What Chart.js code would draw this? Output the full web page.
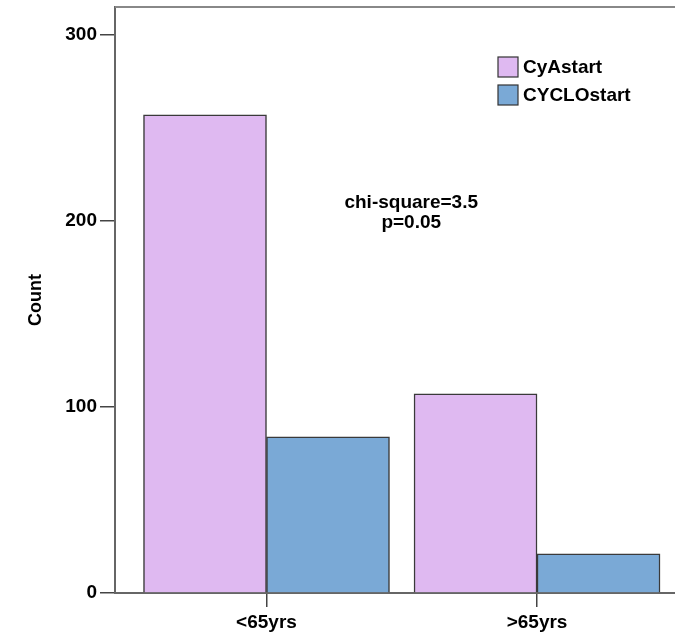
<!DOCTYPE html>
<html>
<head>
<meta charset="utf-8">
<script src="https://cdn.jsdelivr.net/npm/chart.js@4"></script>
<style>
  html, body { margin: 0; padding: 0; background: #fff; }
  #wrap { width: 675px; height: 635px; }
</style>
</head>
<body>
<div id="wrap"><canvas id="countChart" width="675" height="635"></canvas></div>
<script>
const categories = ['<65yrs', '>65yrs'];
const seriesNames = ['CyAstart', 'CYCLOstart'];
const cyaValues = [257, 107];
const cycloValues = [84, 21];
const yTicks = [0, 100, 200, 300];
const statLines = ['chi-square=3.5', 'p=0.05'];

const colors = ['#dfb9f1', '#7aa9d6'];
const fontFamily = 'Arial, "Liberation Sans", sans-serif';

Chart.defaults.font.family = fontFamily;
Chart.defaults.color = '#000';

function toPoints(values) {
  return values.map((v, i) => ({ x: i + 1, y: v }));
}

// box at the top of the plot + legend + chi-square note
const extras = {
  id: 'extras',
  afterDraw(chart) {
    const ctx = chart.ctx;
    const area = chart.chartArea;
    ctx.save();

    ctx.strokeStyle = '#888';
    ctx.lineWidth = 2;
    ctx.beginPath();
    ctx.moveTo(area.left, area.top);
    ctx.lineTo(area.right, area.top);
    ctx.stroke();

    ctx.font = 'bold 19px ' + fontFamily;
    ctx.textBaseline = 'middle';
    ctx.textAlign = 'left';
    chart.data.datasets.forEach((ds, i) => {
      const x = area.right - 177;
      const y = area.top + 50 + i * 28;
      ctx.fillStyle = ds.backgroundColor;
      ctx.fillRect(x, y, 20, 20);
      ctx.strokeStyle = '#333';
      ctx.lineWidth = 1.2;
      ctx.strokeRect(x, y, 20, 20);
      ctx.fillStyle = '#000';
      ctx.fillText(ds.label, x + 25, y + 11);
    });

    ctx.textAlign = 'center';
    ctx.textBaseline = 'alphabetic';
    const xs = chart.scales.x;
    const cx = xs.getPixelForValue(1.535);
    statLines.forEach((t, i) => {
      ctx.fillText(t, cx, area.top + 201 + i * 20);
    });
    ctx.restore();
  }
};

new Chart(document.getElementById('countChart'), {
  type: 'bar',
  data: {
    datasets: [
      {
        label: seriesNames[0],
        data: toPoints(cyaValues),
        backgroundColor: colors[0],
        borderColor: '#3a3a3a',
        borderWidth: 1.5
      },
      {
        label: seriesNames[1],
        data: toPoints(cycloValues),
        backgroundColor: colors[1],
        borderColor: '#3a3a3a',
        borderWidth: 1.5
      }
    ]
  },
  options: {
    responsive: false,
    animation: false,
    barThickness: 123,
    layout: { padding: { left: 25, top: 7, right: 0, bottom: 0 } },
    plugins: {
      legend: { display: false },
      tooltip: { enabled: false }
    },
    scales: {
      x: {
        type: 'linear',
        offset: false,
        min: 0.44,
        max: 2.51,
        afterBuildTicks: (scale) => {
          scale.ticks = categories.map((c, i) => ({ value: i + 1 }));
        },
        afterFit: (scale) => {
          scale.height = 42;
          scale.paddingLeft = 0;
          scale.paddingRight = 0;
        },
        ticks: {
          callback: (v) => categories[v - 1],
          font: { size: 19, weight: 'bold' },
          padding: 4,
          maxRotation: 0,
          autoSkip: false
        },
        grid: { offset: false, drawOnChartArea: false, drawTicks: true, tickLength: 14, color: '#444', lineWidth: 1.5 },
        border: { color: '#666', width: 2 }
      },
      y: {
        min: 0,
        max: 315,
        afterBuildTicks: (scale) => {
          scale.ticks = yTicks.map(v => ({ value: v }));
        },
        afterFit: (scale) => {
          scale.width = 90;
          scale.paddingTop = 0;
          scale.paddingBottom = 0;
        },
        ticks: {
          font: { size: 19, weight: 'bold' },
          padding: 3
        },
        grid: { drawOnChartArea: false, drawTicks: true, tickLength: 15, color: '#444', lineWidth: 1.5 },
        border: { color: '#666', width: 2 },
        title: {
          display: true,
          text: 'Count',
          font: { size: 18, weight: 'bold' },
          padding: { top: 0, bottom: 0 }
        }
      }
    }
  },
  plugins: [extras]
});
</script>
</body>
</html>
